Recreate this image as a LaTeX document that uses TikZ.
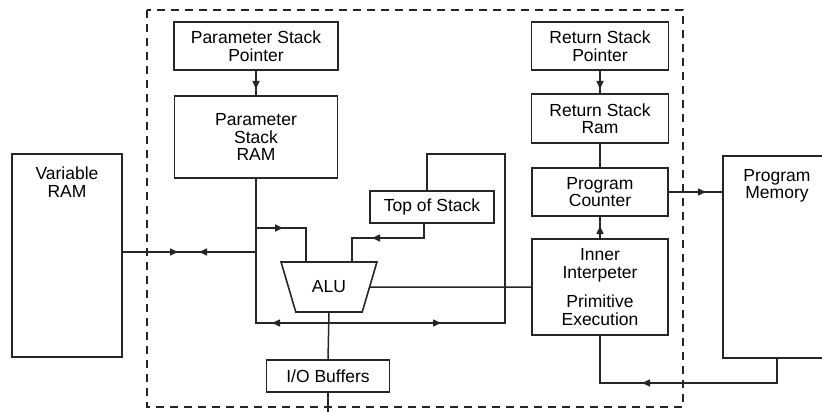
\documentclass[tikz,border=0pt]{standalone}
\usepackage{fontspec}
\setmainfont{Liberation Sans}
\usetikzlibrary{arrows.meta,positioning,shapes.geometric,decorations.markings}

\tikzset{
  tip at/.style={postaction={decorate,decoration={markings,
      mark=at position #1 with {\arrow{Triangle[length=8pt,width=7pt]}}}}},
  tip back/.style={postaction={decorate,decoration={markings,
      mark=at position #1 with {\arrowreversed{Triangle[length=8pt,width=7pt]}}}}}
}

\begin{document}
\begin{tikzpicture}[
    x=1pt, y=-1pt,
    line width=1.5pt, draw=black!85,
    block/.style={draw, line width=1.6pt, outer sep=0pt, align=center, inner sep=2pt,
                  font=\fontsize{17.5}{17.5}\selectfont},
    wire/.style={draw, line width=1.5pt},
    txt/.style={font=\fontsize{17.5}{17.5}\selectfont, align=center}
]
\useasboundingbox (0,0) rectangle (822,412);
\clip (0,0) rectangle (822,412);

% processor boundary
\draw[line width=1.4pt, dash pattern=on 8pt off 6pt] (147,10) rectangle (683,407);

% parameter stack side
\node[block, minimum width=164pt, minimum height=48pt] (psp) at (256,46) {Parameter Stack\\Pointer};
\node[block, minimum width=163pt, minimum height=82pt, below=26pt of psp] (psram) {Parameter\\Stack\\RAM};

% return stack side
\node[block, minimum width=137pt, minimum height=48pt] (rsp) at (600,46) {Return Stack\\Pointer};
\node[block, minimum width=137pt, minimum height=49pt, below=24pt of rsp] (rsram) {Return Stack\\Ram};
\node[block, minimum width=136pt, minimum height=48pt, below=25pt of rsram] (pc) {Program\\Counter};
\node[block, minimum width=136pt, minimum height=96pt, below=23pt of pc] (inner) {Inner\\Interpeter\\[12pt]Primitive\\Execution};

% datapath
\node[block, minimum width=124pt, minimum height=32pt] (tos) at (432,207) {Top of Stack};
\node[block, trapezium, trapezium stretches=true, shape border rotate=180,
      trapezium angle=62.5, minimum width=96pt, minimum height=50pt] (alu) at (329,287) {ALU};
\node[block, minimum width=123pt, minimum height=32pt] (io) at (328,376) {I/O Buffers};

% external memories
\node[block, minimum width=110pt, minimum height=203pt,
      label={[txt, anchor=north, yshift=-9pt]north:{Variable\\RAM}}] (var) at (67,255.5) {};
\node[block, minimum width=108pt, minimum height=202pt,
      label={[txt, anchor=north, yshift=-9pt]north:{Program\\Memory}}] (pm) at (777,257) {};

% junctions
\coordinate (aluout) at (alu.south |- 0,323);
\coordinate (psbr) at (psram.south |- 0,228);
\coordinate (varjn) at (psram.south |- 0,252);
\coordinate (ioout) at (io.south |- 0,412);

% stack pointers
\draw[wire, tip at=19pt] (psp) -- (psram);
\draw[wire, tip at=19pt] (rsp) -- (rsram);
\draw[wire] (rsram) -- (pc);
\draw[wire, tip at=13pt] (inner) -- (pc);

% program memory loop
\draw[wire, tip at=38pt] (pc.east) -- (pc.east -| pm.west);
\draw[wire, tip at=160pt] (pm.south) |- (inner.south |- 0,383) -- (inner.south);

% variable RAM port
\draw[wire, tip at=56pt, tip back=77pt] (var.east |- varjn) -- (varjn);

% ALU inputs
\draw[wire, tip at=27pt] (psbr) -| (alu.north -| 306,0);
\draw[wire, tip at=67pt] ([xshift=-8pt]tos.south) |- (352,238) -- (alu.north -| 352,0);
\draw[wire] (alu.east) -- (inner.west);

% ALU result bus
\draw[wire, tip at=57pt] (aluout) -| (psram.south);
\draw[wire, tip at=112pt] (aluout) -| (505,154) -| ([xshift=-5pt]tos.north);
\draw[wire] (alu.south) -- (io.north);
\draw[wire] (io.south) -- (ioout);

\end{tikzpicture}
\end{document}
